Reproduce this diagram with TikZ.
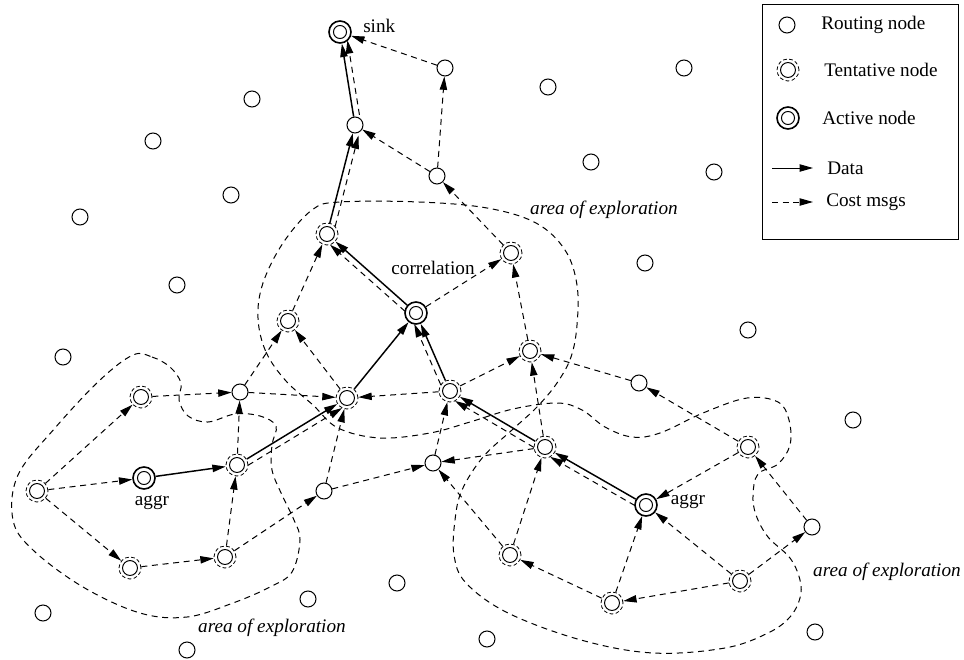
\documentclass[tikz,border=0pt]{standalone}
\usepackage{fontspec}
\setmainfont{Liberation Serif}
\usepackage{tikz}
\usetikzlibrary{arrows.meta,calc}

% dashed cost message running beside a data edge
\newcommand{\twinmsg}[4]{\draw[cost,shorten <=7pt,shorten >=7pt] ($(#1)!4.5pt!#3:(#2)$) -- ($(#2)!4.5pt!#4:(#1)$);}

\begin{document}
\begin{tikzpicture}[x=0.75pt,y=0.75pt,yscale=-1,xscale=1,
  every node/.style={font=\fontsize{14.4}{17}\selectfont},
  routing/.style={circle,draw,line width=0.75pt,minimum size=12pt,inner sep=0pt},
  tentative/.style={circle,draw,line width=0.6pt,dash pattern=on 2.8pt off 1.8pt,minimum size=16.5pt,inner sep=0pt,
    path picture={\draw[solid,line width=0.75pt] (path picture bounding box.center) circle (5.6pt);}},
  active/.style={circle,draw,line width=1.2pt,minimum size=16.5pt,inner sep=0pt,
    path picture={\draw[line width=0.75pt] (path picture bounding box.center) circle (4.9pt);}},
  data/.style={line width=1.1pt,-{Triangle[length=10pt,width=5.5pt]}},
  cost/.style={line width=0.75pt,dash pattern=on 4.5pt off 3.5pt,-{Triangle[length=10pt,width=5.5pt]}},
  area/.style={line width=0.75pt,dash pattern=on 4.5pt off 3.5pt},
  lbl/.style={inner sep=0pt}]
\useasboundingbox (0,0) rectangle (964,660);

% active nodes
\node[active] (sink) at (340,32) {};
\node[active] (corr) at (416,313) {};
\node[active] (aggrA) at (144,478) {};
\node[active] (aggrB) at (646,505) {};

% tentative nodes
\node[tentative] (t1) at (327,234) {};
\node[tentative] (t2) at (511,253) {};
\node[tentative] (t3) at (288,321) {};
\node[tentative] (t4) at (530,351) {};
\node[tentative] (t5) at (141,397) {};
\node[tentative] (t6) at (347,398) {};
\node[tentative] (t7) at (450,391) {};
\node[tentative] (t8) at (237,465) {};
\node[tentative] (t9) at (37,491) {};
\node[tentative] (t10) at (545,447) {};
\node[tentative] (t11) at (748,447) {};
\node[tentative] (t12) at (510,555) {};
\node[tentative] (t13) at (130,568) {};
\node[tentative] (t14) at (225,557) {};
\node[tentative] (t15) at (740,581) {};
\node[tentative] (t16) at (612,603) {};

% routing nodes
\node[routing] (r1) at (445,68) {};
\node[routing] (r2) at (355,125) {};
\node[routing] (r3) at (437,176) {};
\node[routing] (r4) at (252,99) {};
\node[routing] (r5) at (153,141) {};
\node[routing] (r6) at (231,195) {};
\node[routing] (r7) at (80,217) {};
\node[routing] (r8) at (177,285) {};
\node[routing] (r9) at (548,87) {};
\node[routing] (r10) at (684,68) {};
\node[routing] (r11) at (591,162) {};
\node[routing] (r12) at (714,172) {};
\node[routing] (r13) at (645,263) {};
\node[routing] (r14) at (748,330) {};
\node[routing] (r15) at (63,357) {};
\node[routing] (r16) at (240,392) {};
\node[routing] (r17) at (324,491) {};
\node[routing] (r18) at (433,463) {};
\node[routing] (r19) at (639,383) {};
\node[routing] (r20) at (853,420) {};
\node[routing] (r21) at (812,527) {};
\node[routing] (r22) at (308,599) {};
\node[routing] (r23) at (397,583) {};
\node[routing] (r24) at (487,639) {};
\node[routing] (r25) at (815,632) {};
\node[routing] (r26) at (43,613) {};
\node[routing] (r27) at (187,650) {};

% labels
\node[lbl,anchor=west] (sinklbl) at (363,26) {sink};
\node[lbl] (corrlbl) at (433,268) {correlation};
\node[lbl] (aggrAlbl) at (152,503) {aggr};
\node[lbl] (aggrBlbl) at (688,502) {aggr};
\node[lbl] (area1) at (604,210) {\itshape area of exploration};
\node[lbl] (area2) at (272,628) {\itshape area of exploration};
\node[lbl] (area3) at (887,572) {\itshape area of exploration};

% areas of exploration
\draw[area] plot[smooth cycle,tension=0.6] coordinates {(258,318) (266,352) (286,381) (313,405) (338,428) (380,438) (430,433) (470,422) (513,409) (557,403) (582,410) (605,427) (632,437) (660,433) (703,413) (747,398) (778,402) (789,420) (790,445) (778,464) (758,474) (753,495) (756,515) (768,537) (790,558) (800,580) (800,598) (790,617) (768,633) (725,648) (653,653) (581,640) (508,613) (466,583) (454,555) (455,520) (462,490) (483,457) (512,430) (537,407) (557,383) (571,357) (577,325) (577,285) (565,250) (536,223) (487,208) (419,202) (340,202) (312,210) (283,243) (263,283)};
\draw[area] plot[smooth cycle,tension=0.6] coordinates {(133,355) (152,357) (170,367) (181,383) (179,400) (188,416) (208,422) (235,414) (260,416) (276,426) (272,445) (272,470) (282,495) (294,520) (300,540) (292,572) (270,587) (233,603) (187,617) (140,613) (83,587) (33,550) (13,520) (18,475) (55,428) (100,380)};

% data path
\draw[data] (aggrA) -- (t8);
\draw[data] (t8) -- (t6);
\draw[data] (t6) -- (corr);
\draw[data] (aggrB) -- (t10);
\draw[data] (t10) -- (t7);
\draw[data] (t7) -- (corr);
\draw[data] (corr) -- (t1);
\draw[data] (t1) -- (r2);
\draw[data] (r2) -- (sink);

% cost messages beside the data path
\twinmsg{r2}{sink}{90}{-90}
\twinmsg{t1}{r2}{90}{-90}
\twinmsg{corr}{t1}{-90}{90}
\twinmsg{t7}{corr}{-90}{90}
\twinmsg{t8}{t6}{90}{-90}
\twinmsg{aggrB}{t10}{-90}{90}
\twinmsg{t10}{t7}{-90}{90}

% cost messages
\draw[cost] (r1) -- (sink);
\draw[cost] (r3) -- (r1);
\draw[cost] (r3) -- (r2);
\draw[cost] (t2) -- (r3);
\draw[cost] (corr) -- (t2);
\draw[cost] (t3) -- (t1);
\draw[cost] (t4) -- (t2);
\draw[cost] (t7) -- (t4);
\draw[cost] (r16) -- (t3);
\draw[cost] (t6) -- (t3);
\draw[cost] (t5) -- (r16);
\draw[cost] (r16) -- (t6);
\draw[cost] (t8) -- (r16);
\draw[cost] (r18) -- (t7);
\draw[cost] (t7) -- (t6);
\draw[cost] (r17) -- (t6);
\draw[cost] (t10) -- (r18);
\draw[cost] (t10) -- (t4);
\draw[cost] (r19) -- (t4);
\draw[cost] (t11) -- (r19);
\draw[cost] (t11) -- (aggrB);
\draw[cost] (t12) -- (r18);
\draw[cost] (t12) -- (t10);
\draw[cost] (t16) -- (aggrB);
\draw[cost] (t16) -- (t12);
\draw[cost] (t15) -- (aggrB);
\draw[cost] (t15) -- (t16);
\draw[cost] (t15) -- (r21);
\draw[cost] (r21) -- (t11);
\draw[cost] (r17) -- (r18);
\draw[cost] (t14) -- (r17);
\draw[cost] (t14) -- (t8);
\draw[cost] (t13) -- (t14);
\draw[cost] (t9) -- (t13);
\draw[cost] (t9) -- (aggrA);
\draw[cost] (t9) -- (t5);

% legend
\draw[line width=0.75pt] (762,5) rectangle (958,239);
\node[routing] (lrouting) at (787,25) {};
\node[lbl,anchor=west] (lroutingtxt) at (821,25) {Routing node};
\node[tentative] (ltent) at (788,70) {};
\node[lbl,anchor=west] (ltenttxt) at (824,70) {Tentative node};
\node[active] (lactive) at (788,118) {};
\node[lbl,anchor=west] (lactivetxt) at (822,118) {Active node};
\coordinate (ldata1) at (772,168);
\coordinate (ldata2) at (813,168);
\draw[data,line width=0.75pt] (ldata1) -- (ldata2);
\node[lbl,anchor=west] (ldatatxt) at (827,168) {Data};
\coordinate (lcost1) at (772,202);
\coordinate (lcost2) at (813,202);
\draw[cost] (lcost1) -- (lcost2);
\node[lbl,anchor=west] (lcosttxt) at (826,202) {Cost msgs};
\end{tikzpicture}
\end{document}
